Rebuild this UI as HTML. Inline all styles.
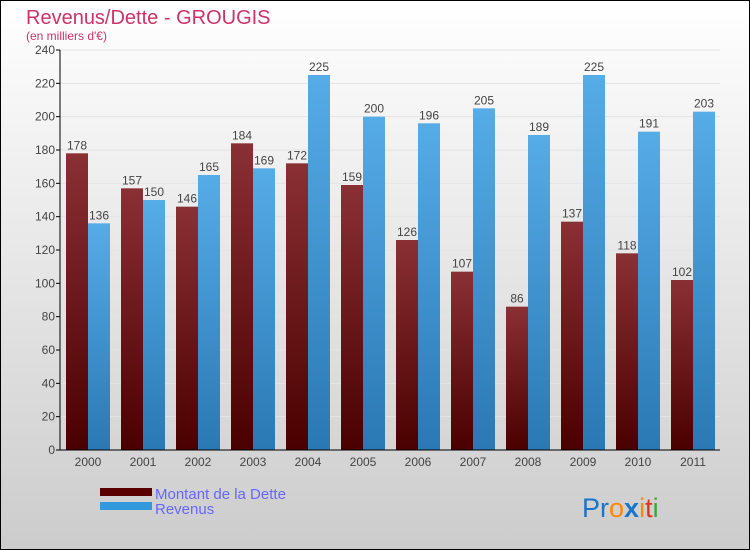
<!DOCTYPE html>
<html><head><meta charset="utf-8"><style>
body{margin:0}
svg{display:block;font-family:"Liberation Sans","DejaVu Sans",sans-serif}
</style></head><body>
<svg width="750" height="550">
<defs>
<linearGradient id="bg" x1="0" y1="0" x2="0" y2="1"><stop offset="0" stop-color="#ffffff"/><stop offset="1" stop-color="#cccccc"/></linearGradient>
<linearGradient id="gd" x1="0" y1="0" x2="0" y2="1"><stop offset="0" stop-color="#8a3034"/><stop offset="1" stop-color="#4a0000"/></linearGradient>
<linearGradient id="gr" x1="0" y1="0" x2="0" y2="1"><stop offset="0" stop-color="#56ace6"/><stop offset="1" stop-color="#2a78b4"/></linearGradient>
</defs>
<rect x="0.5" y="0.5" width="749" height="549" fill="url(#bg)" stroke="#000"/>
<text x="26" y="24" font-size="20" fill="#cc3366">Revenus/Dette - GROUGIS</text>
<text x="26" y="40" font-size="12" fill="#cc3366">(en milliers d'€)</text>
<g id="grid"></g><g id="bars"></g><g id="axes"></g>
<rect x="100" y="488" width="52" height="8" fill="#5a0000"/>
<text x="155" y="499" font-size="15" fill="#6666ff">Montant de la Dette</text>
<rect x="100" y="502" width="52" height="8" fill="#3399dd"/>
<text x="155" y="514" font-size="15" fill="#6666ff">Revenus</text>
<text x="582" y="517" font-size="27"><tspan fill="#1a75c9">Pr</tspan><tspan fill="#ff8800">o</tspan><tspan fill="#1a75c9" font-weight="bold">x</tspan><tspan fill="#ff8800">i</tspan><tspan fill="#dd3322">t</tspan><tspan fill="#33aa33">i</tspan></text>
</svg>
<script>
const years=["2000","2001","2002","2003","2004","2005","2006","2007","2008","2009","2010","2011"];
const dette=[178,157,146,184,172,159,126,107,86,137,118,102];
const revenus=[136,150,165,169,225,200,196,205,189,225,191,203];
const yTicks=[0,20,40,60,80,100,120,140,160,180,200,220,240];
const NS="http://www.w3.org/2000/svg";
const y0=450,ppu=400/240,x0=66,step=55,bw=22;
const Y=v=>y0-v*ppu;
function mk(t,a,p){const e=document.createElementNS(NS,t);for(const k in a)e.setAttribute(k,a[k]);p.appendChild(e);return e;}
const grid=document.getElementById('grid'),bars=document.getElementById('bars'),axes=document.getElementById('axes');
yTicks.forEach(v=>{
 const l=mk('line',{x1:60,x2:720,y1:Y(v),y2:Y(v),stroke:'#e4e4e4'},grid);
 
 
 const t=mk('text',{x:55,y:Y(v)+4,'font-size':12,fill:'#444','text-anchor':'end'},axes);
 t.textContent=v;
 
 
 mk('line',{x1:56,x2:60,y1:Y(v),y2:Y(v),stroke:'#000'},axes);
});
mk('line',{x1:60,x2:60,y1:50,y2:450,stroke:'#000'},axes);
mk('line',{x1:60,x2:720,y1:450,y2:450,stroke:'#000'},axes);
years.forEach((yr,i)=>{
 const x=x0+i*step;
 const b1=mk('rect',{x:x,y:Y(dette[i]),width:bw,height:dette[i]*ppu,fill:'url(#gd)'},bars);
 
 
 const b2=mk('rect',{x:x+bw,y:Y(revenus[i]),width:bw,height:revenus[i]*ppu,fill:'url(#gr)'},bars);
 
 
 const t1=mk('text',{x:x+bw/2,y:Y(dette[i])-4,'font-size':12,fill:'#444','text-anchor':'middle'},bars);
 t1.textContent=dette[i];
 
 
 const t2=mk('text',{x:x+bw*1.5,y:Y(revenus[i])-4,'font-size':12,fill:'#444','text-anchor':'middle'},bars);
 t2.textContent=revenus[i];
 
 
 const t3=mk('text',{x:x+bw,y:466,'font-size':12,fill:'#444','text-anchor':'middle'},axes);
 t3.textContent=yr;
 
 
});
</script>
</body></html>
